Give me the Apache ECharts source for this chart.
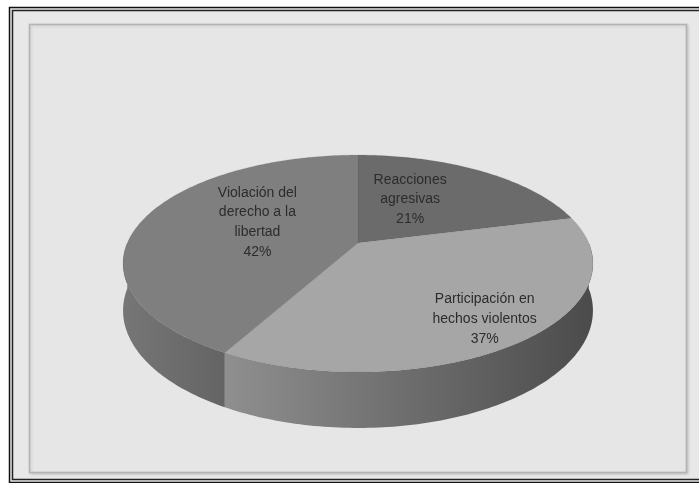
<!DOCTYPE html>
<html><head><meta charset="utf-8">
<script src="https://cdn.jsdelivr.net/npm/echarts@6/dist/echarts.min.js"></script>
<style>html,body{margin:0;padding:0;background:#fff}#c{width:699px;height:483px}</style>
</head><body><div id="c"></div>
<script>
// ---- data ----
const categories = ['Reacciones\nagresivas', 'Participación en\nhechos violentos', 'Violación del\nderecho a la\nlibertad'];
const values = [21, 37, 42];

// ---- layout / style (not data) ----
const CX = 358, CY = 243, A = 230.7, B = 104.6, K = 0.189, D0 = 45.4;
const topColors = ['#6b6b6b', '#a6a6a6', '#7f7f7f'];
const sideStops = [
  [[0, '#5e5e5e'], [1, '#555555']],
  [[0, '#8f8f8f'], [0.5, '#6d6d6d'], [1, '#4b4b4b']],
  [[0, '#767676'], [1, '#646464']]
];
const labelLayout = [{ f: 0.39, dy: -13 }, { f: 0.79, dy: 2 }, { f: 0.46, dy: -9 }];

const total = values.reduce((a, b) => a + b, 0);
const starts = [];
values.reduce((acc, v) => { starts.push(acc); return acc + v; }, 0);

function proj(thDeg, f, h) {
  const t = thDeg * Math.PI / 180;
  const u = f * Math.sin(t), v = -f * Math.cos(t);
  const w = 1 - K * v;
  return [CX + A * u / w, CY + (B * v + h) / w];
}
function arc(a, b, f, h) {
  const pts = [];
  const n = Math.max(2, Math.ceil(Math.abs(b - a)));
  for (let i = 0; i <= n; i++) pts.push(proj(a + (b - a) * i / n, f, h));
  return pts;
}

function renderItem(params, api) {
  const i = params.dataIndex;
  const val = api.value(0);
  const s = starts[i] / total * 360;
  const e = s + val / total * 360;
  const children = [];
  const a = Math.max(s, 90), b = Math.min(e, 270);
  if (a < b) {
    const pts = arc(a, b, 1, 0).concat(arc(b, a, 1, D0));
    children.push({
      type: 'polygon', z2: 1,
      shape: { points: pts },
      style: {
        fill: new echarts.graphic.LinearGradient(0, 0, 1, 0,
          sideStops[i].map(st => ({ offset: st[0], color: st[1] }))),
        stroke: null
      }
    });
  }
  const topPts = [proj(0, 0, 0)].concat(arc(s, e, 1, 0));
  children.push({
    type: 'polygon', z2: 10,
    shape: { points: topPts },
    style: { fill: topColors[i], stroke: 'rgba(90,90,90,0.25)', lineWidth: 0.5 }
  });
  const mid = (s + e) / 2;
  const lp = proj(mid, labelLayout[i].f, 0);
  const pct = Math.round(val / total * 100) + '%';
  children.push({
    type: 'text', z2: 20,
    style: {
      text: categories[i] + '\n' + pct,
      x: lp[0], y: lp[1] + labelLayout[i].dy,
      align: 'center', verticalAlign: 'middle',
      textAlign: 'center', textVerticalAlign: 'middle',
      font: '14px "Liberation Sans"', lineHeight: 19.7,
      fill: '#2c2c2c'
    }
  });
  return { type: 'group', children };
}

const chart = echarts.init(document.getElementById('c'), null, { renderer: 'canvas' });
chart.setOption({
  backgroundColor: '#ffffff',
  animation: false,
  graphic: [
    { type: 'rect', z: -10, shape: { x: 9.5, y: 7.5, width: 700, height: 475 },
      style: { fill: '#e8e8e8', stroke: '#111', lineWidth: 1.5 }, silent: true },
    { type: 'rect', z: -9, shape: { x: 12.5, y: 10.5, width: 700, height: 469 },
      style: { fill: '#e8e8e8', stroke: '#222', lineWidth: 1.5 }, silent: true },
    { type: 'rect', z: -8, shape: { x: 29.5, y: 24.5, width: 657, height: 448 },
      style: { fill: '#e6e6e6', stroke: '#b3b3b3', lineWidth: 1.5,
        shadowColor: 'rgba(0,0,0,0.15)', shadowBlur: 3, shadowOffsetX: 1, shadowOffsetY: 1 }, silent: true }
  ],
  series: [{
    type: 'custom',
    coordinateSystem: 'none',
    renderItem,
    data: values.map((v, i) => ({ name: categories[i], value: v }))
  }]
});
</script>
</body></html>
